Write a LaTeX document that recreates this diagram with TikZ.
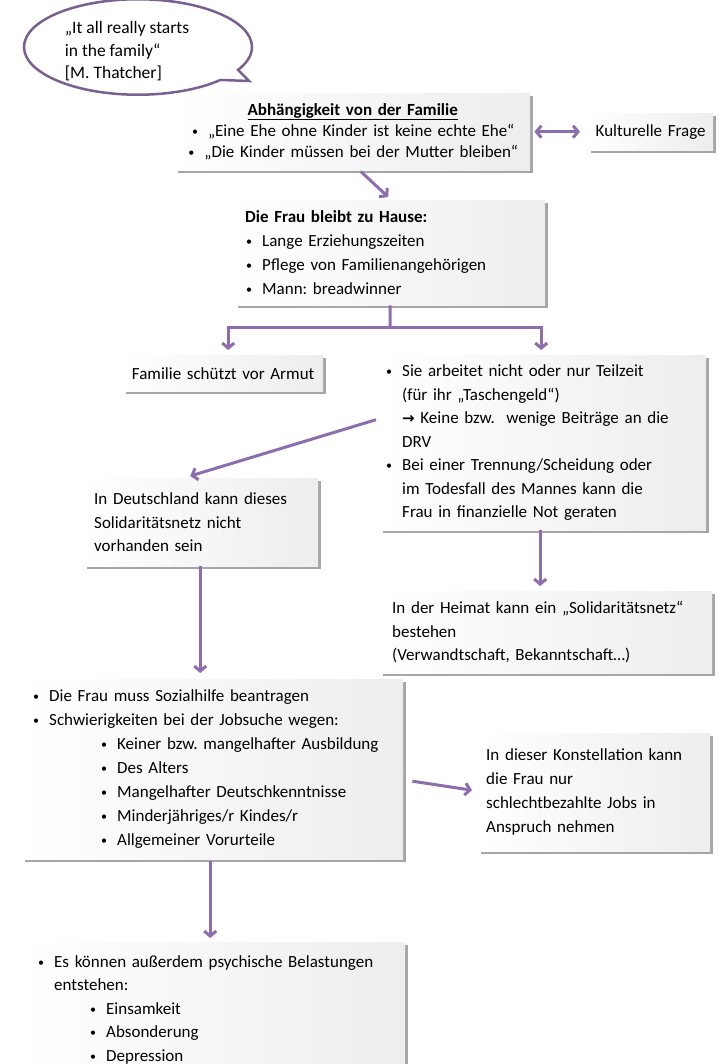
\documentclass[tikz,border=0pt]{standalone}
\usepackage{fontspec}
\setmainfont{Carlito}
\newfontfamily\symf{DejaVu Sans}
\usetikzlibrary{arrows.meta,shadows,shapes.callouts}
\definecolor{arrcol}{RGB}{140,110,175}
\definecolor{bubcol}{RGB}{122,96,146}
\newcommand{\bt}{\makebox[17pt][l]{\hspace{1pt}\raisebox{1.2pt}{\fontsize{12pt}{12pt}\selectfont •}}}
\frenchspacing
\begin{document}
\begin{tikzpicture}[x=1pt,y=-1pt,
  box/.style={anchor=north west, inner xsep=10pt, inner ysep=0pt, align=left,
    left color=white, right color=black!7,
    drop shadow={shadow xshift=3pt,shadow yshift=-3pt,fill=black,opacity=.35},
    font=\fontsize{17pt}{23.5pt}\selectfont\frenchspacing},
  arr/.style={draw=arrcol, line width=3pt, -{Straight Barb[length=5pt,width=12pt]}},
  darr/.style={draw=arrcol, line width=3pt, {Straight Barb[length=5pt,width=12pt]}-{Straight Barb[length=5pt,width=12pt]}},
  conn/.style={draw=arrcol, line width=3pt},
  bubble/.style={ellipse callout, draw=bubcol, line width=2.5pt, fill=white,
    minimum width=228pt, minimum height=80pt, inner sep=0pt,
    font=\fontsize{17.5pt}{22.5pt}\selectfont}
]
\useasboundingbox (0,0) rectangle (718,1064);

\node[bubble, callout absolute pointer={(249,81)}] (bub) at (138,47)
  {\raisebox{-5pt}[\height][\depth]{\begin{tabular}{@{}l@{}}„It all really starts\\in the family“\\{[M. Thatcher]}\end{tabular}}\rule{22pt}{0pt}};

\node[box, align=center, minimum width=355pt, minimum height=77pt, text width=335pt,
  font=\fontsize{17pt}{21pt}\selectfont] (abh) at (175,93)
  {\textbf{\underline{Abhängigkeit von der Familie}}\\
   \bt„Eine Ehe ohne Kinder ist keine echte Ehe“\\
   \bt„Die Kinder müssen bei der Mutter bleiben“};

\node[box, align=center, inner xsep=5pt, minimum width=125pt, minimum height=37pt, text width=115pt] (kult) at (588,113) {Kulturelle Frage};

\node[box, minimum width=310pt, minimum height=105pt, text width=290pt,
  font=\fontsize{17pt}{24pt}\selectfont] (frau) at (235,200)
  {\textbf{Die Frau bleibt zu Hause:}\\
   \bt Lange Erziehungszeiten\\
   \bt Pflege von Familienangehörigen\\
   \bt Mann: breadwinner};

\node[box, align=center, inner xsep=5pt, minimum width=200pt, minimum height=36pt, text width=190pt] (fam) at (123,355) {Familie schützt vor Armut};

\node[box, inner xsep=5pt, minimum width=326pt, minimum height=175pt, text width=316pt] (arb) at (380,355)
  {\bt Sie arbeitet nicht oder nur Teilzeit\\
   \hspace*{17pt}(für ihr „Taschengeld“)\\
   \hspace*{17pt}{\symf\bfseries\fontsize{15pt}{15pt}\selectfont →} Keine bzw.\ \ wenige Beiträge an die\\
   \hspace*{17pt}DRV\\
   \bt Bei einer Trennung/Scheidung oder\\
   \hspace*{17pt}im Todesfall des Mannes kann die\\
   \hspace*{17pt}Frau in finanzielle Not geraten};

\node[box, minimum width=234pt, minimum height=88pt, text width=214pt] (deu) at (84,478)
  {In Deutschland kann dieses\\Solidaritätsnetz nicht\\vorhanden sein};

\node[box, inner xsep=12pt, minimum width=332pt, minimum height=82pt, text width=308pt] (heim) at (380,591)
  {In der Heimat kann ein „Solidaritätsnetz“\\bestehen\\(Verwandtschaft, Bekanntschaft…)};

\node[box, minimum width=381pt, minimum height=180pt, text width=361pt,
  font=\fontsize{17pt}{24pt}\selectfont] (soz) at (22,679)
  {\bt Die Frau muss Sozialhilfe beantragen\\
   \bt Schwierigkeiten bei der Jobsuche wegen:\\
   \hspace*{68pt}\bt Keiner bzw. mangelhafter Ausbildung\\
   \hspace*{68pt}\bt Des Alters\\
   \hspace*{68pt}\bt Mangelhafter Deutschkenntnisse\\
   \hspace*{68pt}\bt Minderjähriges/r Kindes/r\\
   \hspace*{68pt}\bt Allgemeiner Vorurteile};

\node[box, inner xsep=8pt, minimum width=232pt, minimum height=118pt, text width=216pt,
  font=\fontsize{17pt}{24pt}\selectfont] (konst) at (478,733)
  {In dieser Konstellation kann\\die Frau nur\\schlechtbezahlte Jobs in\\Anspruch nehmen};

\node[box, inner xsep=12pt, minimum width=380pt, minimum height=135pt, text width=356pt] (psy) at (25,942)
  {\bt Es können außerdem psychische Belastungen\\
   \hspace*{17pt}entstehen:\\
   \hspace*{52pt}\bt Einsamkeit\\
   \hspace*{52pt}\bt Absonderung\\
   \hspace*{52pt}\bt Depression};

% connectors
\draw[darr] ([xshift=4pt]abh.east) -- ([xshift=-8pt]kult.west);
\draw[arr] ([shift={(8pt,-1pt)}]abh.south) -- ([shift={(-2pt,3pt)}]frau.north);
\coordinate (br) at (390,327);
\draw[conn] (frau.south) -- (br);
\draw[arr] (br) -| ([shift={(5pt,5pt)}]fam.north);
\draw[arr] (br) -| ([shift={(-2pt,5pt)}]arb.north);
\draw[arr] ([shift={(-4pt,23pt)}]arb.west) -- ([shift={(-11pt,2pt)}]deu.north);
\draw[arr] ([xshift=-3pt]arb.south) -- ([shift={(-6pt,5pt)}]heim.north);
\draw[arr] ([xshift=-1pt]deu.south) -- ([shift={(-12.5pt,6pt)}]soz.north);
\draw[arr] ([shift={(9pt,-12pt)}]soz.east) -- ([shift={(-6pt,2pt)}]konst.west);
\draw[arr] ([shift={(-2.5pt,-2pt)}]soz.south) -- ([shift={(-5pt,4pt)}]psy.north);
\end{tikzpicture}
\end{document}
